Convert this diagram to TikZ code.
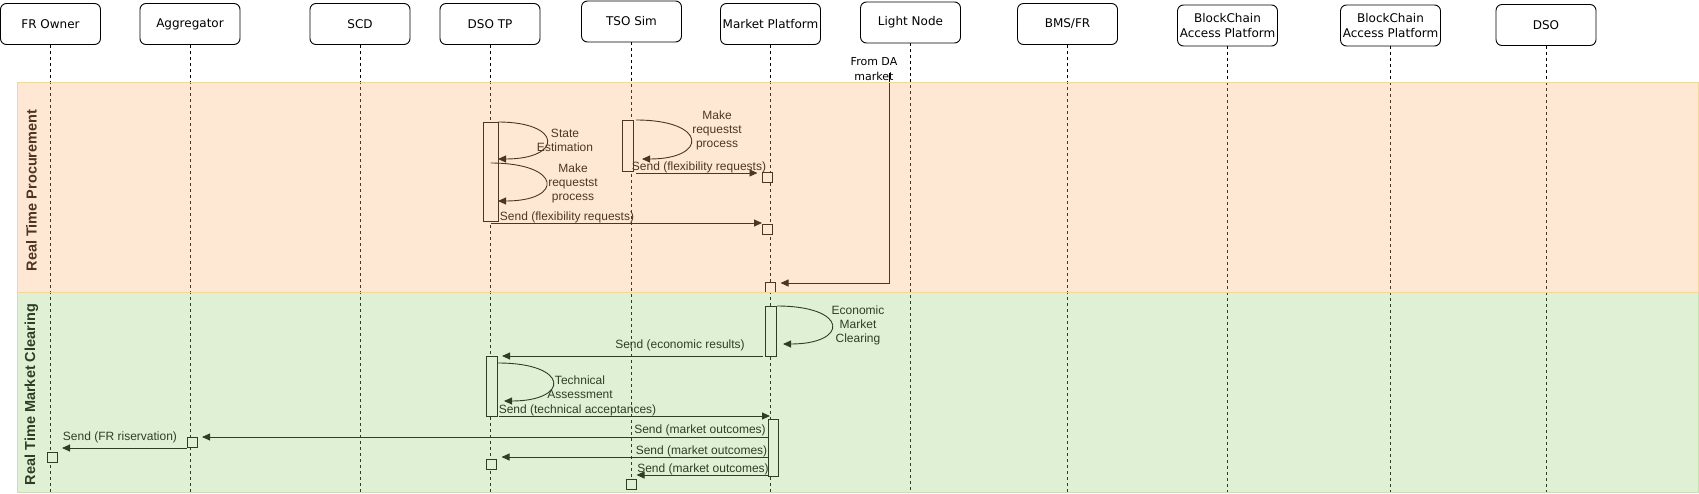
\documentclass[tikz,border=0pt]{standalone}
\usepackage{fontspec}
\setmainfont{Liberation Sans}
\newfontfamily\headfont{DejaVu Sans}
\usepackage{xcolor}
\usetikzlibrary{
    arrows.meta,
    calc,
    positioning
}
\definecolor{laneorange}{HTML}{FFB570}
\definecolor{lanegreen}{HTML}{97D077}
\definecolor{laneorangeline}{HTML}{F2D99B}
\definecolor{lanegreenline}{HTML}{C8DFB4}
\tikzset{
    actor/.style={draw, rounded corners=6pt, minimum width=100pt, minimum height=41pt, inner sep=0pt, align=center, font=\headfont\fontsize{12}{15}\selectfont},
    lifeline/.style={dash pattern=on 3pt off 3pt},
    actbox/.style={draw, fill=white, inner sep=0pt, outer sep=0pt},
    msg/.style={-{Triangle[length=8pt, width=7pt]}},
    msgtext/.style={inner sep=0pt, align=center, font=\fontsize{12}{14}\selectfont},
    lanetext/.style={inner sep=0pt, rotate=90, font=\bfseries\fontsize{14.5}{16}\selectfont}
}

\begin{document}
\begin{tikzpicture}[x=1pt, y=-1pt, line width=0.9pt]
    \useasboundingbox (0,0) rectangle (1699,493);
    \fill[white] (0,0) rectangle (1699,493);

    \node[actor] (frowner) at (50.5,24) {FR Owner};
    \node[actor] (aggr) at (190,24) {Aggregator};
    \node[actor] (scd) at (360,24) {SCD};
    \node[actor] (dsotp) at (490,24) {DSO TP};
    \node[actor] (tsosim) at (631.5,21.5) {TSO Sim};
    \node[actor] (mplat) at (770.5,24) {Market Platform};
    \node[actor] (lnode) at (910.5,22.5) {Light Node};
    \node[actor] (bms) at (1067.5,24) {BMS/FR};
    \node[actor] (bcone) at (1227.5,25.5) {BlockChain\\Access Platform};
    \node[actor] (bctwo) at (1390.5,25.5) {BlockChain\\Access Platform};
    \node[actor] (dso) at (1546,25) {DSO};

    \foreach \n in {frowner, aggr, scd, dsotp, tsosim, mplat, lnode, bms, bcone, bctwo, dso}
        \draw[lifeline] (\n.south) -- (\n.south |- 0,493);

    \node[inner sep=0pt, align=center, font=\headfont\fontsize{11}{14.5}\selectfont] (damarket) at (874,69) {From DA\\market};
    \coordinate (dastart) at (889,73);

    \node[actbox, minimum width=15pt, minimum height=99pt] (dsoA) at (490.5,171.5) {};
    \node[actbox, minimum width=11pt, minimum height=51pt] (tsoA) at (627.5,145.5) {};
    \node[actbox, minimum size=10pt] (mpA) at (767.5,177) {};
    \node[actbox, minimum size=10pt] (mpB) at (767,229) {};
    \node[actbox, minimum size=10pt] (mpC) at (770.5,287) {};
    \node[actbox, minimum width=11pt, minimum height=50pt] (mpE) at (770.5,331) {};
    \node[actbox, minimum width=11pt, minimum height=60pt] (dsoT) at (491.5,386) {};
    \node[actbox, minimum width=10pt, minimum height=57pt] (mpO) at (773,447.5) {};
    \node[actbox, minimum size=10pt] (aggB) at (192,442) {};
    \node[actbox, minimum size=10pt] (dsoB) at (491.5,464) {};
    \node[actbox, minimum size=10pt] (tsoB) at (631.5,484.5) {};
    \node[actbox, minimum size=10pt] (frB) at (52,457) {};

    \draw[msg] (dsoA.north east) .. controls +(65,0) and +(65,0) .. (dsoA.east |- 0,159);
    \draw[msg] (dsoA.center |- 0,163) .. controls +(72,0) and +(66,0) .. (dsoA.east |- 0,201);
    \draw[msg] ($(tsoA.north east)+(3,0)$) .. controls +(72,0) and +(66,0) .. ($(tsoA.east |- 0,159)+(9,0)$);
    \draw[msg] ($(mpE.north east)+(1,0)$) .. controls +(72,0) and +(66,0) .. ($(mpE.east |- 0,344)+(7,0)$);
    \draw[msg] ($(dsoT.east |- 0,363)+(1,0)$) .. controls +(72,0) and +(66,0) .. ($(dsoT.east |- 0,401)+(7,0)$);

    \node[msgtext] (stateest) at (565,140) {State\\Estimation};
    \node[msgtext] (makereqa) at (573,183) {Make\\requestst\\process};
    \node[msgtext] (makereqb) at (717,130) {Make\\requestst\\process};
    \node[msgtext] (econclear) at (858,325) {Economic\\Market\\Clearing};
    \node[msgtext] (techass) at (580,387) {Technical\\Assessment};

    \draw[msg, shorten <=3pt, shorten >=5pt] (tsoA.east |- 0,173) -- (mpA.west |- 0,173);
    \draw[msg] (dsoA.center |- 0,223) -- (mpB.west |- 0,223);
    \draw[msg, shorten >=5pt] (dastart) |- (mpC.east |- 0,283);
    \draw[msg, shorten <=2pt, shorten >=5pt] (mpE.south west) -- (dsoT.north east);
    \draw[msg, shorten <=2pt, shorten >=-2pt] (dsoT.south east) -- (mpO.west |- 0,416);
    \draw[msg, shorten >=5pt] (mpO.west |- 0,437) -- (aggB.east |- 0,437);
    \draw[msg, shorten >=5pt] (mpO.west |- 0,457) -- (dsoB.east |- 0,457);
    \draw[msg] (mpO.west |- 0,475) -- (tsoB.east |- 0,475);
    \draw[msg, shorten >=5pt] (aggB.west |- 0,448) -- (frB.east |- 0,448);

    \node[msgtext] (flexa) at (699,167) {Send (flexibility requests)};
    \node[msgtext] (flexb) at (567,217) {Send (flexibility requests)};
    \node[msgtext] (econres) at (680,345) {Send (economic results)};
    \node[msgtext] (techacc) at (577.5,410) {Send (technical acceptances)};
    \node[msgtext] (outa) at (700,430) {Send (market outcomes)};
    \node[msgtext] (outb) at (701.5,451) {Send (market outcomes)};
    \node[msgtext] (outc) at (703,469) {Send (market outcomes)};
    \node[msgtext] (frres) at (120,437) {Send (FR riservation)};

    \node[lanetext] (procurement) at (31.5,190.5) {Real Time Procurement};
    \node[lanetext] (clearing) at (31.5,394.5) {Real Time Market Clearing};

    \fill[laneorange, fill opacity=0.3] (17,82) rectangle (1698,292);
    \fill[lanegreen, fill opacity=0.3] (17,292) rectangle (1698,492);
    \draw[lanegreenline, line width=1pt] (17,292) rectangle (1698,492);
    \draw[laneorangeline, line width=1pt] (17,82) rectangle (1698,292);
\end{tikzpicture}
\end{document}
